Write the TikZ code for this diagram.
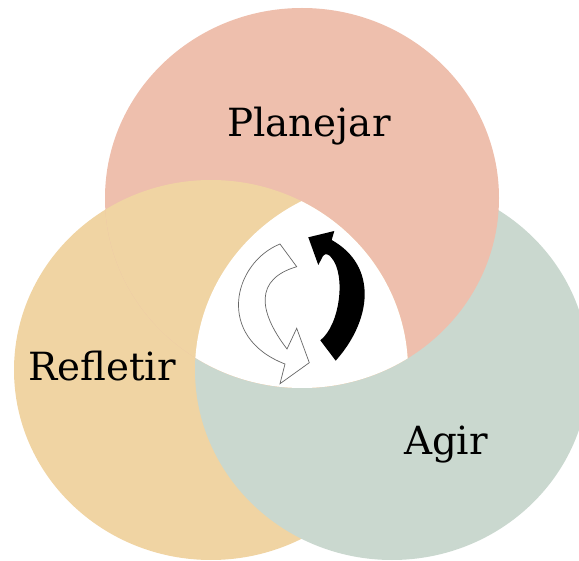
\documentclass[tikz,border=0pt]{standalone}
\usepackage{fontspec}
\setmainfont{DejaVu Serif}
\definecolor{pinkc}{HTML}{EEBFAD}
\definecolor{yellowc}{HTML}{F0D4A3}
\definecolor{greenc}{HTML}{CAD8CF}
\tikzset{
  lab/.style={font=\fontsize{38.8}{39}\selectfont, anchor=base, inner sep=0pt, text=black, draw=none},
  petal/.style={x radius=197, y radius=190}
}
\begin{document}
\begin{tikzpicture}[x=1pt,y=-1pt]
\useasboundingbox (0,0) rectangle (579,561);
\begin{scope}
\clip (0,0) rectangle (579,561);
\fill[yellowc] (211,370) ellipse [petal];
\fill[greenc] (392,370) ellipse [petal];
\fill[pinkc] (302,198) ellipse [petal];
\begin{scope}
\clip (302,198) ellipse [petal];
\fill[yellowc] (211,370) ellipse [petal];
\begin{scope}
\clip (211,370) ellipse [petal];
\fill[white] (392,370) ellipse [petal];
\end{scope}
\end{scope}
\end{scope}
% open arrow
\draw[gray!80!black, line width=0.7pt, fill=white, line join=miter]
  (280,244) -- (296.7,266.7)
  .. controls (254.6,279) and (258,311) .. (287,349)
  -- (296.7,328.3) -- (309.3,362.7) -- (280,383.7) -- (285,364)
  .. controls (215,337) and (233,263) .. (280,244) -- cycle;
% solid arrow
\fill[black]
  (335.7,360.7) -- (320.3,340.3)
  .. controls (340,325) and (346,275) .. (331.7,258)
  .. controls (329,254) and (325,253) .. (323,256)
  -- (318.3,265) -- (308.3,237.3) -- (334.3,231) -- (331.7,240)
  .. controls (378,266) and (372,320) .. (335.7,360.7) -- cycle;
\node[lab] (plan) at (309,137) {Planejar};
\node[lab] (refl) at (102,381) {Refletir};
\node[lab] (agir) at (446,455) {Agir};
\end{tikzpicture}
\end{document}
